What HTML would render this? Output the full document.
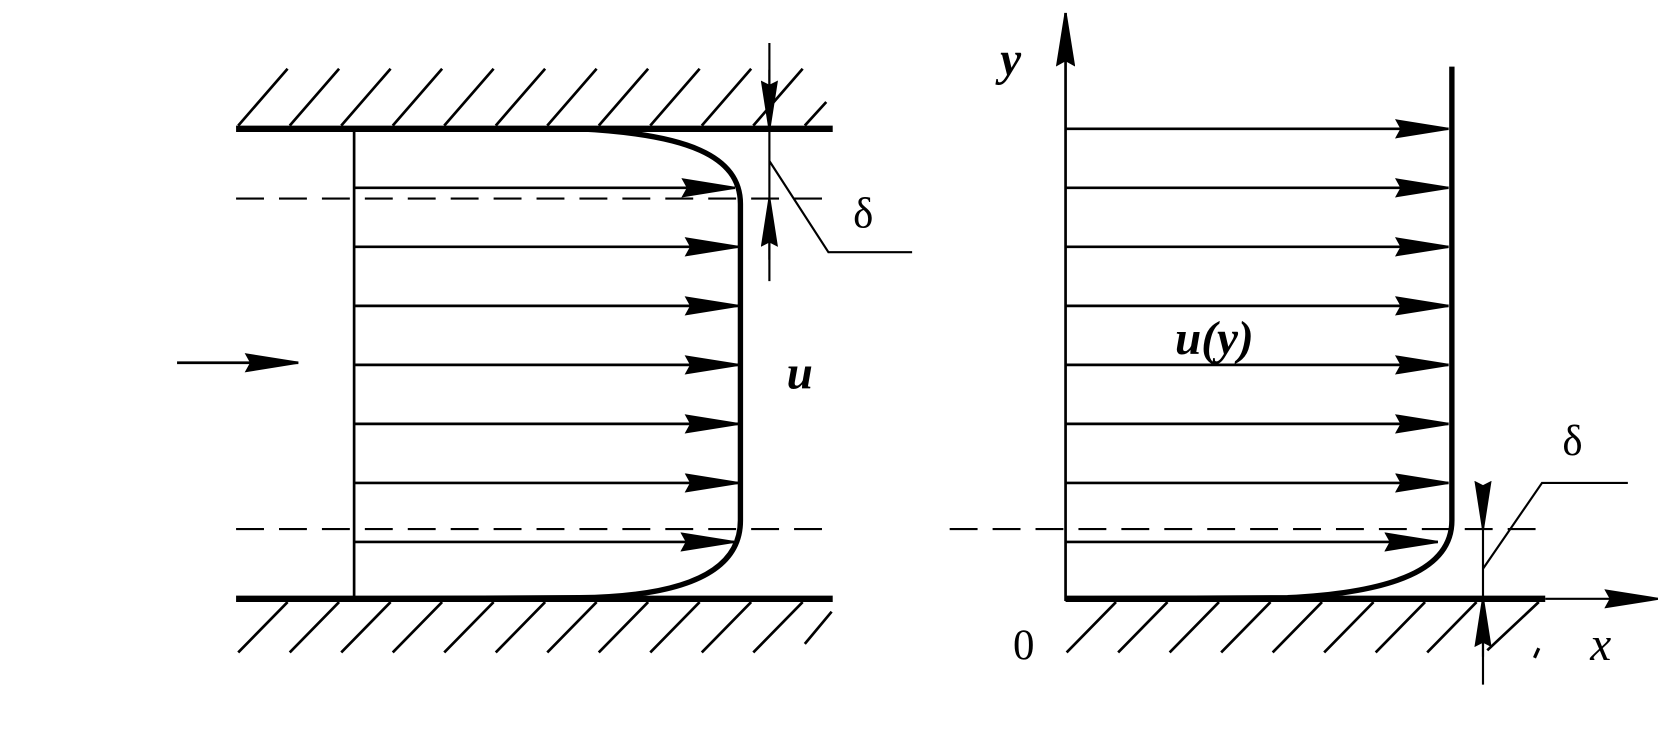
<!DOCTYPE html>
<html><head><style>html,body{margin:0;padding:0;background:#fff}svg{display:block}</style></head><body>
<svg width="1674" height="748" viewBox="0 0 1560 697" xmlns="http://www.w3.org/2000/svg">
<defs>
<marker id="a" viewBox="0 0 50 18" refX="50" refY="9" markerWidth="50" markerHeight="18" markerUnits="userSpaceOnUse" orient="auto"><path d="M0,0 L50,8 L50,10 L0,18 L5,9z" fill="#000"/></marker>
<marker id="b" viewBox="0 0 45 16" refX="45" refY="8" markerWidth="45" markerHeight="16" markerUnits="userSpaceOnUse" orient="auto"><path d="M0,0 L45,7 L45,9 L0,16 L4,8z" fill="#000"/></marker>
</defs>
<g stroke="#000" fill="none">
<line x1="220" y1="120" x2="776" y2="120" stroke-width="6"/>
<line x1="220" y1="558" x2="776" y2="558" stroke-width="6"/>
<g stroke-width="2.5">
<path d="M222,117 L268,64 M270,117 L316,64 M318,117 L364,64 M366,117 L412,64 M414,117 L460,64 M462,117 L508,64 M510,117 L556,64 M558,117 L604,64 M606,117 L652,64 M654,117 L700,64 M702,117 L748,64 M750,117 L770,95"/>
<path d="M268,561 L222,608 M316,561 L270,608 M364,561 L318,608 M412,561 L366,608 M460,561 L414,608 M508,561 L462,608 M556,561 L510,608 M604,561 L558,608 M652,561 L606,608 M700,561 L654,608 M748,561 L702,608 M775,570 L750,600"/>
</g>
<line x1="330" y1="120" x2="330" y2="556" stroke-width="2.5"/>
<g stroke-width="2.5" marker-end="url(#a)">
<line x1="330" y1="175" x2="685" y2="175"/>
<line x1="330" y1="230" x2="688" y2="230"/>
<line x1="330" y1="285" x2="688" y2="285"/>
<line x1="330" y1="340" x2="688" y2="340"/>
<line x1="330" y1="395" x2="688" y2="395"/>
<line x1="330" y1="450" x2="688" y2="450"/>
<line x1="330" y1="505" x2="684" y2="505"/>
<line x1="165" y1="338" x2="278" y2="338"/>
</g>
<path d="M330,120 L540,120 C640,125 690,145 690,190 L690,485 C690,540 620,556 540,557 L330,558" stroke-width="5"/>
<g stroke-width="2" stroke-dasharray="26,14">
<line x1="220" y1="185" x2="776" y2="185"/>
<line x1="220" y1="493" x2="776" y2="493"/>
<line x1="885" y1="493" x2="1440" y2="493"/>
</g>
<line x1="717" y1="40" x2="717" y2="262" stroke-width="2"/>
<line x1="717" y1="65" x2="717" y2="120" stroke-width="2" marker-end="url(#b)"/>
<line x1="717" y1="242" x2="717" y2="185" stroke-width="2" marker-end="url(#b)"/>
<path d="M717,150 L772,235 L850,235" stroke-width="2"/>
<line x1="993" y1="560" x2="993" y2="12" stroke-width="2.5" marker-end="url(#a)"/>
<line x1="993" y1="558" x2="1440" y2="558" stroke-width="6"/>
<line x1="1440" y1="558" x2="1545" y2="558" stroke-width="2" marker-end="url(#a)"/>
<g stroke-width="2.5">
<path d="M1040,561 L994,608 M1088,561 L1042,608 M1136,561 L1090,608 M1184,561 L1138,608 M1232,561 L1186,608 M1280,561 L1234,608 M1328,561 L1282,608 M1376,561 L1330,608 M1434,561 L1386,606"/>
</g>
<g stroke-width="2.5" marker-end="url(#a)">
<line x1="993" y1="120" x2="1350" y2="120"/>
<line x1="993" y1="175" x2="1350" y2="175"/>
<line x1="993" y1="230" x2="1350" y2="230"/>
<line x1="993" y1="285" x2="1350" y2="285"/>
<line x1="993" y1="340" x2="1350" y2="340"/>
<line x1="993" y1="395" x2="1350" y2="395"/>
<line x1="993" y1="450" x2="1350" y2="450"/>
<line x1="993" y1="505" x2="1340" y2="505"/>
</g>
<path d="M1353,62 L1353,485 C1353,530 1300,552 1200,557 L993,558" stroke-width="5"/>
<line x1="1382" y1="456" x2="1382" y2="638" stroke-width="2"/>
<line x1="1382" y1="455" x2="1382" y2="493" stroke-width="2" marker-end="url(#b)"/>
<line x1="1382" y1="612" x2="1382" y2="558" stroke-width="2" marker-end="url(#b)"/>
<path d="M1382,530 L1437,450 L1517,450" stroke-width="2"/>
<line x1="1434" y1="604" x2="1430" y2="613" stroke-width="3"/>
</g>
<g font-family="Liberation Serif, serif" fill="#000">
<text x="795" y="212" font-size="40">δ</text>
<text x="1456" y="424" font-size="40">δ</text>
<text x="733" y="362" font-size="44" font-style="italic" font-weight="bold">u</text>
<text x="1095" y="330" font-size="44" font-style="italic" font-weight="bold">u(y)</text>
<text x="932" y="70" font-size="44" font-style="italic" font-weight="bold">y</text>
<text x="944" y="614" font-size="40">0</text>
<text x="1482" y="615" font-size="44" font-style="italic">x</text>
</g>
</svg>
</body></html>
